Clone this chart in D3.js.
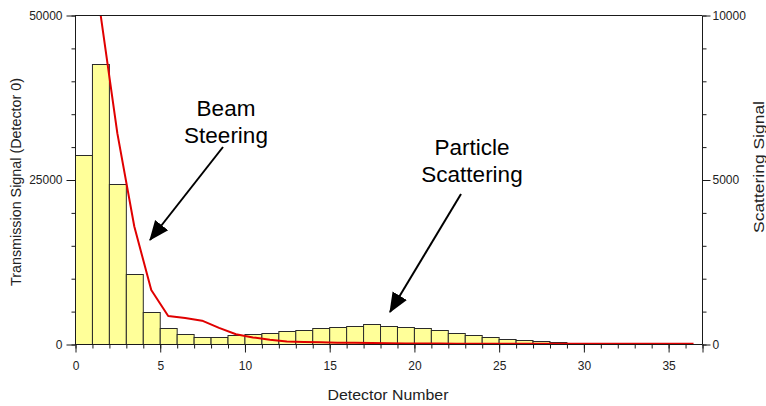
<!DOCTYPE html>
<html>
<head>
<meta charset="utf-8">
<script src="https://cdn.jsdelivr.net/npm/d3@7"></script>
<style>
  body { margin: 0; background: #fff; }
  svg { display: block; }
  text { font-family: "Liberation Sans", Arial, sans-serif; }
</style>
</head>
<body>
<svg id="chart" width="766" height="406"></svg>
<script>
// ---- data ----
const detectors = [0,1,2,3,4,5,6,7,8,9,10,11,12,13,14,15,16,17,18,19,20,21,22,23,24,25,26,27,28,29,30,31,32,33,34,35,36];
const transmission = [28700,42600,24300,10700,4900,2400,1470,1110,1110,1370,1480,1620,1950,2130,2420,2600,2780,2990,2790,2600,2410,2080,1620,1340,1130,810,560,410,350,200,200,0,0,0,0,0,0];
const scattering = [14000,10050,6400,3570,1640,850,790,710,490,295,200,130,75,60,50,40,35,30,20,15,15,12,10,10,10,10,10,10,8,8,8,5,5,5,5,5,5];
const xTicksMajor = [0,5,10,15,20,25,30,35];
const leftTicksMajor = [0,25000,50000];
const rightTicksMajor = [0,5000,10000];
const xTitle = "Detector Number";
const leftTitle = "Transmission Signal (Detector 0)";
const rightTitle = "Scattering Signal";
const annotations = [
  {lines:["Beam","Steering"], cx:226, y0:116, from:[223,147], to:[150,240]},
  {lines:["Particle","Scattering"], cx:472, y0:155, from:[461,194], to:[390,312]}
];

// ---- layout ----
const L = 75, R = 702, T = 15, B = 344;
const svg = d3.select("#chart");

const x = d3.scaleLinear().domain([0, 37]).range([L, R]);
const yL = d3.scaleLinear().domain([0, 50000]).range([B, T]);
const yR = d3.scaleLinear().domain([0, 10000]).range([B, T]);

svg.append("defs").append("clipPath").attr("id","plotclip")
  .append("rect").attr("x", L).attr("y", T).attr("width", R - L).attr("height", B - T);

// bars
svg.append("g").selectAll("rect").data(detectors).join("rect")
  .attr("x", d => x(d) + 0.5)
  .attr("y", (d,i) => Math.round(yL(transmission[i])) + 0.5)
  .attr("width", d => x(d + 1) - x(d))
  .attr("height", (d,i) => B - Math.round(yL(transmission[i])))
  .attr("fill", "#ffff99")
  .attr("stroke", "#2a2a2a")
  .attr("stroke-width", 1);

// scattering line
const line = d3.line().x((d,i) => x(detectors[i] + 0.5)).y(d => yR(d));
svg.append("path").datum(scattering)
  .attr("clip-path", "url(#plotclip)")
  .attr("d", line)
  .attr("fill", "none")
  .attr("stroke", "#e00000")
  .attr("stroke-width", 2)
  .attr("stroke-linejoin", "round");

const axisColor = "#1a1a1a";
const labelColor = "#222";

// frame: top line
svg.append("line").attr("x1", L).attr("x2", R).attr("y1", T + 0.5).attr("y2", T + 0.5)
  .attr("stroke", axisColor);

// x axis
const xMinor = d3.axisBottom(x).tickValues(d3.range(0, 38)).tickSize(4).tickFormat("");
const gxm = svg.append("g").attr("transform", `translate(0.5,${B + 0.5})`).call(xMinor);
gxm.select(".domain").remove();
gxm.selectAll("line").attr("stroke", axisColor);
const xMajor = d3.axisBottom(x).tickValues(xTicksMajor.concat([37])).tickSize(8).tickPadding(9)
  .tickFormat(d => xTicksMajor.includes(d) ? d : "");
const gx = svg.append("g").attr("transform", `translate(0.5,${B + 0.5})`).call(xMajor);
gx.select(".domain").attr("d", `M${L},0H${R}`).attr("stroke", axisColor);
gx.selectAll("line").attr("stroke", axisColor);
gx.selectAll("text").attr("font-size", 12).attr("fill", labelColor);

// left axis
const yLMinor = d3.axisLeft(yL).tickValues(d3.range(0, 50001, 5000)).tickSize(4).tickFormat("");
const gym = svg.append("g").attr("transform", `translate(${L + 0.5},0.5)`).call(yLMinor);
gym.select(".domain").remove();
gym.selectAll("line").attr("stroke", axisColor);
const gy = svg.append("g").attr("transform", `translate(${L + 0.5},0.5)`)
  .call(d3.axisLeft(yL).tickValues(leftTicksMajor).tickSize(9).tickPadding(4).tickFormat(d3.format("d")));
gy.select(".domain").attr("d", `M0,${T}V${B}`).attr("stroke", axisColor);
gy.selectAll("line").attr("stroke", axisColor);
gy.selectAll("text").attr("font-size", 12).attr("fill", labelColor);

// right axis
const yRMinor = d3.axisRight(yR).tickValues(d3.range(0, 10001, 1000)).tickSize(4).tickFormat("");
const grm = svg.append("g").attr("transform", `translate(${R + 0.5},0.5)`).call(yRMinor);
grm.select(".domain").remove();
grm.selectAll("line").attr("stroke", axisColor);
const gr = svg.append("g").attr("transform", `translate(${R + 0.5},0.5)`)
  .call(d3.axisRight(yR).tickValues(rightTicksMajor).tickSize(8).tickPadding(2).tickFormat(d3.format("d")));
gr.select(".domain").attr("d", `M0,${T}V${B}`).attr("stroke", axisColor);
gr.selectAll("line").attr("stroke", axisColor);
gr.selectAll("text").attr("font-size", 12).attr("fill", labelColor);

// axis titles
svg.append("text").attr("x", 388).attr("y", 400)
  .attr("text-anchor", "middle").attr("font-size", 14).attr("fill", labelColor)
  .attr("textLength", 121).attr("lengthAdjust", "spacingAndGlyphs").text(xTitle);
svg.append("text").attr("transform", `translate(21,182) rotate(-90)`)
  .attr("text-anchor", "middle").attr("font-size", 14).attr("fill", labelColor)
  .attr("textLength", 208).attr("lengthAdjust", "spacingAndGlyphs").text(leftTitle);
svg.append("text").attr("transform", `translate(764,167) rotate(-90)`)
  .attr("text-anchor", "middle").attr("font-size", 14).attr("fill", labelColor)
  .attr("textLength", 132).attr("lengthAdjust", "spacingAndGlyphs").text(rightTitle);

// annotations
const defs = svg.select("defs");
defs.append("marker").attr("id", "arrowhead").attr("markerUnits", "userSpaceOnUse")
  .attr("markerWidth", 20).attr("markerHeight", 20).attr("refX", 17).attr("refY", 0)
  .attr("viewBox", "0 -8 18 16").attr("orient", "auto")
  .append("path").attr("d", "M0,-7.5L18,0L0,7.5Z").attr("fill", "#000");

annotations.forEach(a => {
  a.lines.forEach((t, k) => {
    svg.append("text").attr("x", a.cx).attr("y", a.y0 + k * 26.5)
      .attr("text-anchor", "middle").attr("font-size", 22.5).attr("fill", "#000").text(t);
  });
  svg.append("line").attr("x1", a.from[0]).attr("y1", a.from[1])
    .attr("x2", a.to[0]).attr("y2", a.to[1])
    .attr("stroke", "#000").attr("stroke-width", 2)
    .attr("marker-end", "url(#arrowhead)");
});
</script>
</body>
</html>
